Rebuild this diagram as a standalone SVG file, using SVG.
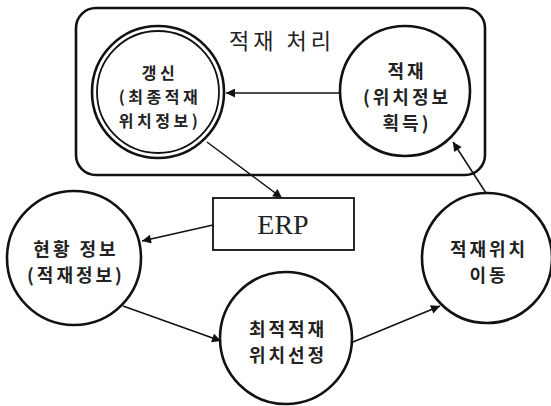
<svg xmlns="http://www.w3.org/2000/svg" width="551" height="406" viewBox="0 0 551 406">
<style>
.n{fill:none;stroke:#111;stroke-width:2.6}
.t{font-family:"Noto Sans CJK KR","Noto Sans",sans-serif;font-weight:bold;font-size:18px;fill:#222;text-anchor:middle;letter-spacing:3px}
.s{font-size:16px;letter-spacing:3.5px}
.c{stroke:#111;stroke-width:1.5;fill:none;marker-end:url(#ah)}
</style>
<defs>
<marker id="ah" viewBox="0 0 10 10" refX="10" refY="5" markerWidth="12" markerHeight="9" markerUnits="userSpaceOnUse" orient="auto">
<path d="M0,0 L10,5 L0,10 z" fill="#111"/>
</marker>
</defs>
<rect width="551" height="406" fill="#fff"/>
<g id="group-processing">
<rect x="76" y="8" width="409" height="167" rx="20" class="n"/>
<text x="282" y="49" class="t" style="font-size:22px;font-weight:normal;letter-spacing:4px">적재 처리</text>
</g>
<g id="node-update">
<circle cx="158" cy="92" r="66" class="n"/>
<circle cx="158" cy="92" r="61" fill="none" stroke="#111" stroke-width="1.8"/>
<text x="160" y="79" class="t s">갱신</text>
<text x="160" y="103" class="t s">(최종적재</text>
<text x="160" y="127" class="t s">위치정보)</text>
</g>
<g id="node-load">
<circle cx="405" cy="91" r="65" class="n"/>
<text x="407" y="78" class="t">적재</text>
<text x="407" y="104" class="t">(위치정보</text>
<text x="407" y="130" class="t">획득)</text>
</g>
<g id="node-erp">
<rect x="213" y="198" width="141" height="52" fill="none" stroke="#111" stroke-width="1.8"/>
<text x="283" y="234" style="font-family:'Liberation Serif',serif;font-size:28px;fill:#222;text-anchor:middle">ERP</text>
</g>
<g id="node-status">
<circle cx="74" cy="258" r="67" class="n"/>
<text x="76" y="256" class="t">현황 정보</text>
<text x="76" y="282" class="t">(적재정보)</text>
</g>
<g id="node-select">
<circle cx="286" cy="338" r="66" class="n"/>
<text x="288" y="336" class="t">최적적재</text>
<text x="288" y="362" class="t">위치선정</text>
</g>
<g id="node-move">
<circle cx="487" cy="258" r="65" class="n"/>
<text x="489" y="256" class="t">적재위치</text>
<text x="489" y="282" class="t">이동</text>
</g>
<g id="connectors">
<line x1="340" y1="93" x2="226" y2="93" class="c"/>
<line x1="207" y1="142" x2="282" y2="198" class="c"/>
<line x1="213" y1="225" x2="142" y2="241" class="c"/>
<line x1="123" y1="306" x2="221" y2="341" class="c"/>
<line x1="353" y1="342" x2="440" y2="306" class="c"/>
<line x1="486" y1="193" x2="453" y2="142" class="c"/>
</g>
</svg>
